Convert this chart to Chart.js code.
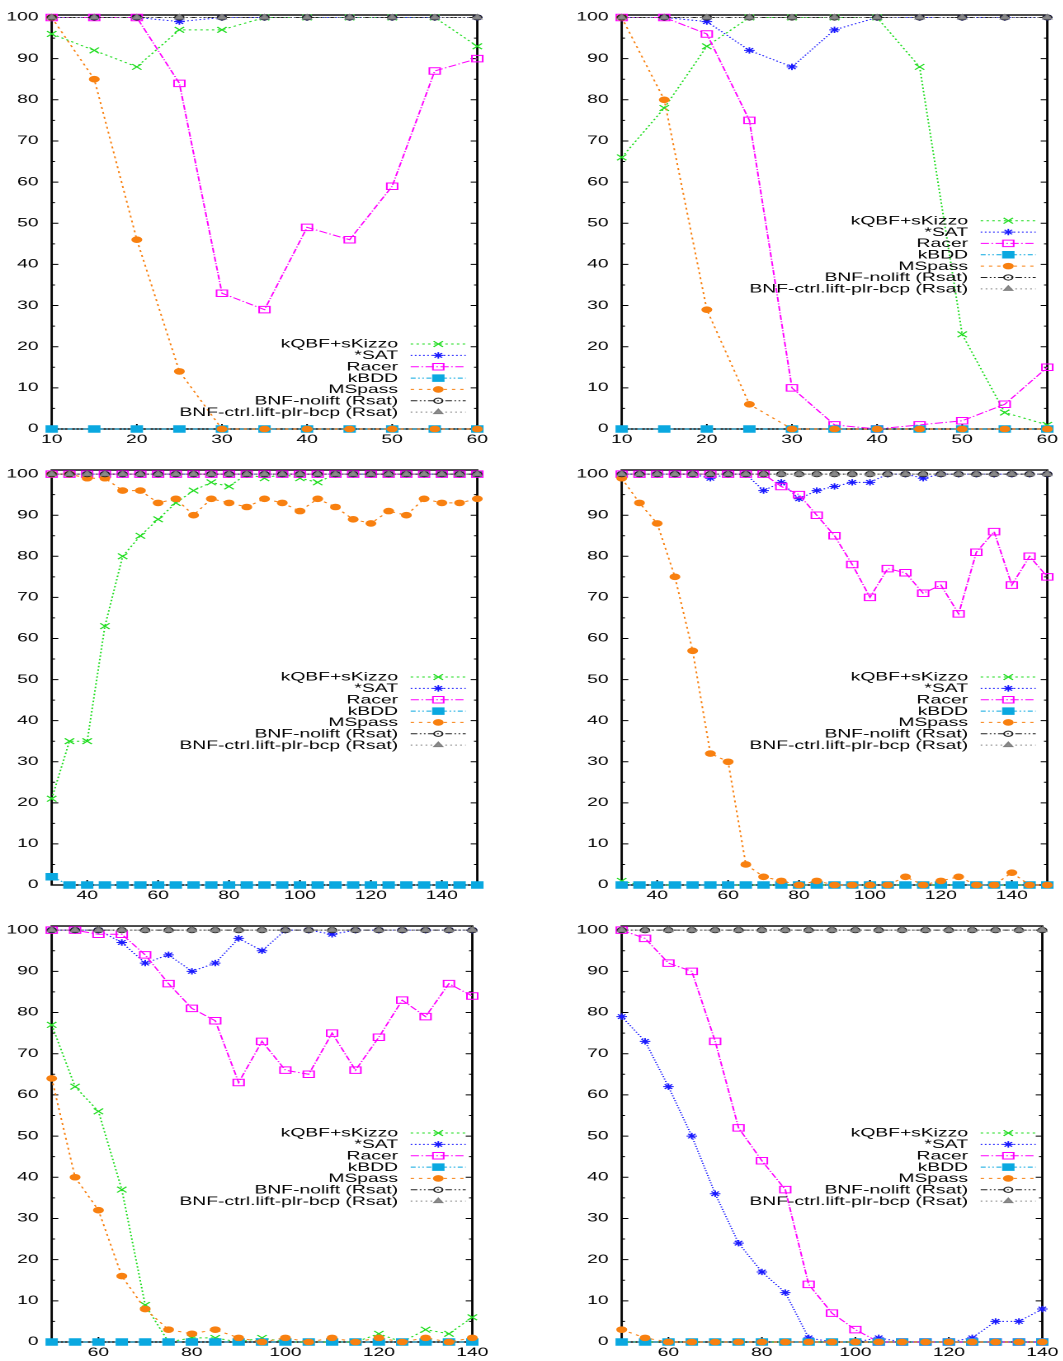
<!DOCTYPE html>
<html><head><meta charset="utf-8">
<script src="https://cdn.jsdelivr.net/npm/chart.js@4.4.1/dist/chart.umd.min.js"></script>
<style>
html,body{margin:0;padding:0;background:#fff;width:1063px;height:1361px;overflow:hidden;}
#wrap{position:relative;width:1063px;height:1361px;overflow:hidden;}
.panel{position:absolute;}
.panel canvas{transform-origin:0 0;}
</style></head><body>
<div id="wrap"></div>
<script>
// ---------- data ----------
const seriesNames = ['kQBF+sKizzo','*SAT','Racer','kBDD','MSpass','BNF-nolift (Rsat)','BNF-ctrl.lift-plr-bcp (Rsat)'];
const yTicks = [0,10,20,30,40,50,60,70,80,90,100];
const xTicksTop = [10,20,30,40,50,60];
const xTicksMid = [40,60,80,100,120,140];
const xTicksBot = [60,80,100,120,140];

const xTop = [10,15,20,25,30,35,40,45,50,55,60];
const xMid = [30,35,40,45,50,55,60,65,70,75,80,85,90,95,100,105,110,115,120,125,130,135,140,145,150];
const xBot = [50,55,60,65,70,75,80,85,90,95,100,105,110,115,120,125,130,135,140];

// panel 1 (top left)
const p1Kqbf   = [96,92,88,97,97,100,100,100,100,100,93];
const p1Sat    = [100,100,100,99,100,100,100,100,100,100,100];
const p1Racer  = [100,100,100,84,33,29,49,46,59,87,90];
const p1Kbdd   = [0,0,0,0,0,0,0,0,0,0,0];
const p1Mspass = [100,85,46,14,0,0,0,0,0,0,0];
const p1Nolift = [100,100,100,100,100,100,100,100,100,100,100];
const p1Ctrl   = [100,100,100,100,100,100,100,100,100,100,100];

// panel 2 (top right)
const p2Kqbf   = [66,78,93,100,100,100,100,88,23,4,1];
const p2Sat    = [100,100,99,92,88,97,100,100,100,100,100];
const p2Racer  = [100,100,96,75,10,1,0,1,2,6,15];
const p2Kbdd   = [0,0,0,0,0,0,0,0,0,0,0];
const p2Mspass = [100,80,29,6,0,0,0,0,0,0,0];
const p2Nolift = [100,100,100,100,100,100,100,100,100,100,100];
const p2Ctrl   = [100,100,100,100,100,100,100,100,100,100,100];

// panel 3 (middle left)
const p3Kqbf   = [21,35,35,63,80,85,89,93,96,98,97,100,99,100,99,98,100,100,100,100,100,100,100,100,100];
const p3Sat    = [100,100,100,100,100,100,100,100,100,100,100,100,100,100,100,100,100,100,100,100,100,100,100,100,100];
const p3Racer  = [100,100,100,100,100,100,100,100,100,100,100,100,100,100,100,100,100,100,100,100,100,100,100,100,100];
const p3Kbdd   = [2,0,0,0,0,0,0,0,0,0,0,0,0,0,0,0,0,0,0,0,0,0,0,0,0];
const p3Mspass = [100,100,99,99,96,96,93,94,90,94,93,92,94,93,91,94,92,89,88,91,90,94,93,93,94];
const p3Nolift = [100,100,100,100,100,100,100,100,100,100,100,100,100,100,100,100,100,100,100,100,100,100,100,100,100];
const p3Ctrl   = [100,100,100,100,100,100,100,100,100,100,100,100,100,100,100,100,100,100,100,100,100,100,100,100,100];

// panel 4 (middle right)
const p4Kqbf   = [1,0,0,0,0,0,0,0,0,0,0,0,0,0,0,0,0,0,0,0,0,0,0,0,0];
const p4Sat    = [100,100,100,100,100,99,100,100,96,98,94,96,97,98,98,100,100,99,100,100,100,100,100,100,100];
const p4Racer  = [100,100,100,100,100,100,100,100,100,97,95,90,85,78,70,77,76,71,73,66,81,86,73,80,75];
const p4Kbdd   = [0,0,0,0,0,0,0,0,0,0,0,0,0,0,0,0,0,0,0,0,0,0,0,0,0];
const p4Mspass = [99,93,88,75,57,32,30,5,2,1,0,1,0,0,0,0,2,0,1,2,0,0,3,0,0];
const p4Nolift = [100,100,100,100,100,100,100,100,100,100,100,100,100,100,100,100,100,100,100,100,100,100,100,100,100];
const p4Ctrl   = [100,100,100,100,100,100,100,100,100,100,100,100,100,100,100,100,100,100,100,100,100,100,100,100,100];

// panel 5 (bottom left)
const p5Kqbf   = [77,62,56,37,9,0,1,1,0,1,0,0,0,0,2,0,3,2,6];
const p5Sat    = [100,100,100,97,92,94,90,92,98,95,100,100,99,100,100,100,100,100,100];
const p5Racer  = [100,100,99,99,94,87,81,78,63,73,66,65,75,66,74,83,79,87,84];
const p5Kbdd   = [0,0,0,0,0,0,0,0,0,0,0,0,0,0,0,0,0,0,0];
const p5Mspass = [64,40,32,16,8,3,2,3,1,0,1,0,1,0,1,0,1,0,1];
const p5Nolift = [100,100,100,100,100,100,100,100,100,100,100,100,100,100,100,100,100,100,100];
const p5Ctrl   = [100,100,100,100,100,100,100,100,100,100,100,100,100,100,100,100,100,100,100];

// panel 6 (bottom right)
const p6Kqbf   = [0,0,0,0,0,0,0,0,0,0,0,0,0,0,0,0,0,0,0];
const p6Sat    = [79,73,62,50,36,24,17,12,1,0,0,1,0,0,0,1,5,5,8];
const p6Racer  = [100,98,92,90,73,52,44,37,14,7,3,0,0,0,0,0,0,0,0];
const p6Kbdd   = [0,0,0,0,0,0,0,0,0,0,0,0,0,0,0,0,0,0,0];
const p6Mspass = [3,1,0,0,0,0,0,0,0,0,0,0,0,0,0,0,0,0,0];
const p6Nolift = [100,100,100,100,100,100,100,100,100,100,100,100,100,100,100,100,100,100,100];
const p6Ctrl   = [100,100,100,100,100,100,100,100,100,100,100,100,100,100,100,100,100,100,100];

// ---------- styles / layout ----------
const FONT = '"Liberation Sans", Arial, Helvetica, sans-serif';
const FONT_SIZE = 11.7;
const S = 1.65;            // horizontal stretch of the whole picture
const PANEL_W = 495;       // real px
const LW = PANEL_W / S;    // logical canvas width
const AREA_L = 51.7, AREA_R = 477.3;        // real, relative to panel
const KEY_TEXT_R = 398, KEY_L = 410.7, KEY_R = 465.7, KEY_M = 438.3;
const KEY_STEP = 11.35;

const styles = [
  {color:'#22dd22', fill:'#22dd22', dash:[1.5,2], point:'crossRot', r:4},
  {color:'#1a1aff', fill:'#1a1aff', dash:[1,1.5], point:'star', r:3.2},
  {color:'#ff00ff', fill:'rgba(0,0,0,0)', dash:[5,1.5,1,1.5], point:'rect', r:4.6},
  {color:'#0aa8e0', fill:'#0aa8e0', dash:[3,1.5,1,1.5,1,1.5], point:'rect', r:4.6},
  {color:'#f88010', fill:'#f88010', dash:[2,3], point:'circle', r:2.8},
  {color:'#222222', fill:'rgba(0,0,0,0)', dash:[4,1.5,1,1.5,1,1.5], point:'circle', r:2.6},
  {color:'#808080', fill:'#8c8c8c', dash:[1,2], point:'triangle', r:3}
];

const panels = [
  {left:0,   top:0,   h:450, bottom:429, ymax:100.6, xs:xTop, xmin:10, xmax:60,  xticks:xTicksTop, keyTop:329,
   series:[p1Kqbf,p1Sat,p1Racer,p1Kbdd,p1Mspass,p1Nolift,p1Ctrl]},
  {left:570, top:0,   h:450, bottom:429, ymax:100.6, xs:xTop, xmin:10, xmax:60,  xticks:xTicksTop, keyTop:205.7,
   series:[p2Kqbf,p2Sat,p2Racer,p2Kbdd,p2Mspass,p2Nolift,p2Ctrl]},
  {left:0,   top:455, h:450, bottom:430, ymax:101, xs:xMid, xmin:30, xmax:150, xticks:xTicksMid, keyTop:207,
   series:[p3Kqbf,p3Sat,p3Racer,p3Kbdd,p3Mspass,p3Nolift,p3Ctrl]},
  {left:570, top:455, h:450, bottom:430, ymax:101, xs:xMid, xmin:30, xmax:150, xticks:xTicksMid, keyTop:207,
   series:[p4Kqbf,p4Sat,p4Racer,p4Kbdd,p4Mspass,p4Nolift,p4Ctrl]},
  {left:0,   top:911, h:450, bottom:431, ymax:101, xs:xBot, xmin:50, xmax:140, xticks:xTicksBot, keyTop:207,
   series:[p5Kqbf,p5Sat,p5Racer,p5Kbdd,p5Mspass,p5Nolift,p5Ctrl]},
  {left:570, top:911, h:450, bottom:431, ymax:101, xs:xBot, xmin:50, xmax:140, xticks:xTicksBot, keyTop:207,
   series:[p6Kqbf,p6Sat,p6Racer,p6Kbdd,p6Mspass,p6Nolift,p6Ctrl]}
];

function drawMarker(ctx, st, x, y) {
  const opts = {pointStyle: st.point, radius: st.r, borderWidth: 1, rotation: 0};
  ctx.fillStyle = st.fill; ctx.strokeStyle = st.color; ctx.lineWidth = 1;
  if (window.Chart && Chart.helpers && Chart.helpers.drawPoint) {
    Chart.helpers.drawPoint(ctx, opts, x, y);
  } else {
    ctx.beginPath(); ctx.arc(x, y, st.r, 0, Math.PI*2); ctx.fill(); ctx.stroke();
  }
}

const framePlugin = {
  id: 'gframe',
  beforeDatasetsDraw(chart, args, opts) {
    const {ctx, chartArea: a, scales: {x, y}} = chart;
    ctx.save();
    ctx.strokeStyle = '#000';
    ctx.lineWidth = 1;
    ctx.beginPath();
    yTicks.forEach(v => {
      const p = y.getPixelForValue(v);
      ctx.moveTo(a.left, p); ctx.lineTo(a.left + 4, p);
      ctx.moveTo(a.right, p); ctx.lineTo(a.right - 4, p);
      if (v < 100) {
        const q = y.getPixelForValue(v + 5);
        ctx.moveTo(a.left, q); ctx.lineTo(a.left + 2, q);
        ctx.moveTo(a.right, q); ctx.lineTo(a.right - 2, q);
      }
    });
    opts.xticks.forEach(v => {
      const p = x.getPixelForValue(v);
      ctx.moveTo(p, a.bottom); ctx.lineTo(p, a.bottom - 5);
      ctx.moveTo(p, a.top); ctx.lineTo(p, a.top + 5);
    });
    ctx.stroke();
    ctx.lineWidth = 1.4;
    ctx.strokeRect(a.left, a.top, a.right - a.left, a.bottom - a.top);
    ctx.restore();
  }
};

const keyPlugin = {
  id: 'gkey',
  afterDatasetsDraw(chart, args, opts) {
    const {ctx, chartArea: a} = chart;
    ctx.save();
    ctx.font = FONT_SIZE + 'px ' + FONT;
    ctx.textAlign = 'right';
    ctx.textBaseline = 'middle';
    seriesNames.forEach((name, i) => {
      const st = styles[i];
      const yy = a.top + opts.keyTop + i * KEY_STEP;
      ctx.fillStyle = '#000';
      ctx.fillText(name, KEY_TEXT_R / S, yy + 0.5);
      ctx.setLineDash(st.dash);
      ctx.strokeStyle = st.color; ctx.lineWidth = 1;
      ctx.beginPath(); ctx.moveTo(KEY_L / S, yy); ctx.lineTo(KEY_R / S, yy); ctx.stroke();
      ctx.setLineDash([]);
      drawMarker(ctx, st, KEY_M / S, yy);
    });
    ctx.restore();
  }
};

const wrap = document.getElementById('wrap');
panels.forEach((pn, k) => {
  const div = document.createElement('div');
  div.className = 'panel';
  div.style.left = pn.left + 'px';
  div.style.top = pn.top + 'px';
  div.style.width = PANEL_W + 'px';
  div.style.height = pn.h + 'px';
  const cv = document.createElement('canvas');
  cv.setAttribute('width', LW);
  cv.setAttribute('height', pn.h);
  cv.style.width = LW + 'px';
  cv.style.height = pn.h + 'px';
  cv.style.transform = 'scaleX(' + S + ')';
  div.appendChild(cv);
  wrap.appendChild(div);

  const datasets = pn.series.map((vals, i) => {
    const st = styles[i];
    return {
      label: seriesNames[i],
      data: pn.xs.map((xv, j) => ({x: xv, y: vals[j]})),
      borderColor: st.color,
      backgroundColor: st.fill,
      borderWidth: 1,
      borderDash: st.dash,
      pointStyle: st.point,
      pointRadius: st.r,
      pointBorderColor: st.color,
      pointBackgroundColor: st.fill,
      pointBorderWidth: 1,
      tension: 0,
      fill: false,
      clip: false,
      order: 10 - i
    };
  });

  new Chart(cv, {
    type: 'line',
    data: {datasets},
    options: {
      responsive: false,
      animation: false,
      devicePixelRatio: 2,
      events: [],
      layout: {padding: {left: 0, right: LW - AREA_R / S, top: 15, bottom: 0}},
      plugins: {
        legend: {display: false},
        tooltip: {enabled: false},
        gframe: {xticks: pn.xticks},
        gkey: {keyTop: pn.keyTop}
      },
      scales: {
        x: {
          type: 'linear', min: pn.xmin, max: pn.xmax,
          grid: {display: false, drawTicks: false},
          border: {display: false},
          ticks: {font: {family: FONT, size: FONT_SIZE}, color: '#000', padding: 4, maxRotation: 0, autoSkip: false},
          afterBuildTicks: s => { s.ticks = pn.xticks.map(v => ({value: v})); },
          afterFit: s => { s.height = pn.h - pn.bottom; }
        },
        y: {
          type: 'linear', min: 0, max: pn.ymax,
          grid: {display: false, drawTicks: false},
          border: {display: false},
          ticks: {font: {family: FONT, size: FONT_SIZE}, color: '#000', padding: 8, autoSkip: false},
          afterBuildTicks: s => { s.ticks = yTicks.map(v => ({value: v})); },
          afterFit: s => { s.width = AREA_L / S; }
        }
      }
    },
    plugins: [framePlugin, keyPlugin]
  });
});
</script>
</body></html>
